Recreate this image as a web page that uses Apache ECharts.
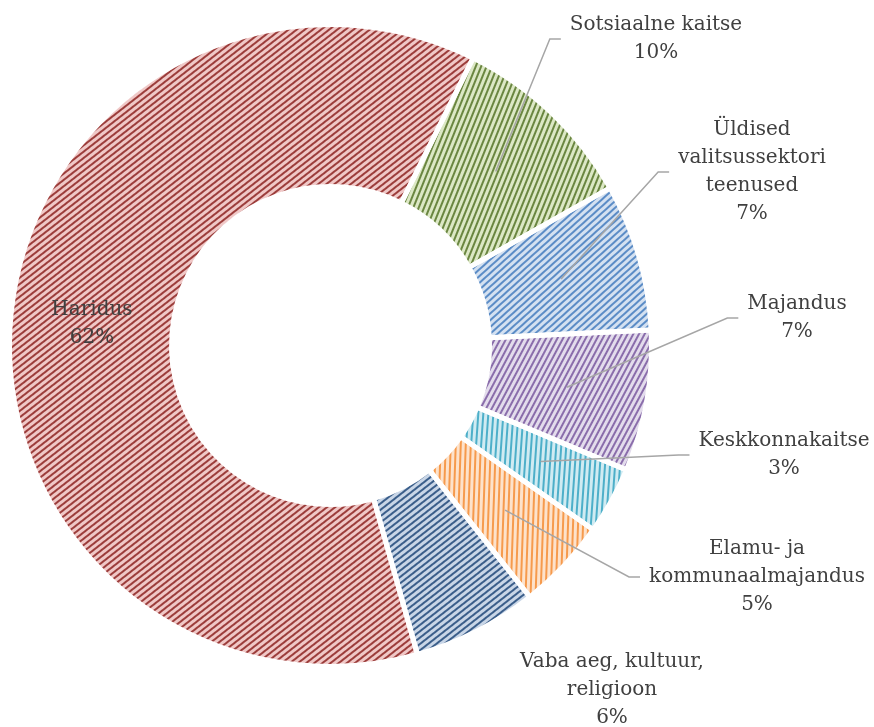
<!DOCTYPE html>
<html>
<head>
<meta charset="utf-8">
<script src="https://cdn.jsdelivr.net/npm/echarts@6/dist/echarts.min.js"></script>
<style>
  html, body { margin: 0; padding: 0; background: #fff; }
  #chart { width: 874px; height: 727px; }
</style>
</head>
<body>
<div id="chart"></div>
<script>
// data (clockwise from the Haridus / Sotsiaalne kaitse border)
const categories = [
  'Sotsiaalne kaitse',
  'Üldised valitsussektori teenused',
  'Majandus',
  'Keskkonnakaitse',
  'Elamu- ja kommunaalmajandus',
  'Vaba aeg, kultuur, religioon',
  'Haridus',
];
const labelTexts = [
  'Sotsiaalne kaitse',
  'Üldised\nvalitsussektori\nteenused',
  'Majandus',
  'Keskkonnakaitse',
  'Elamu- ja\nkommunaalmajandus',
  'Vaba aeg, kultuur,\nreligioon',
  'Haridus',
];
const shares = [9.5, 7.4, 7.1, 3.4, 4.6, 6.3, 61.7];

// styles
const fillColors = ['#dce8c5', '#d4e1f1', '#e3dcec', '#d0ebf2', '#fde2cb', '#c9d6e7', '#f0c8c7'];
const hatchColors = ['#6a8640', '#5b8cc6', '#8a6dab', '#4dafc9', '#f69a4c', '#3b5e8a', '#9c3d3b'];
const hatchAngles = [68, 42, 62, 86, 88, 38, 38];
const noLeader = ['Vaba aeg, kultuur, religioon', 'Haridus'];
// label centres in px
const labelSpots = [[656, 39], [752, 172], [797, 318], [784, 455], [757, 577], [612, 690], [92, 324]];

const chart = echarts.init(document.getElementById('chart'));
const center = [330.5, 345.5];
const startAngle = 63.6;
const ring = [159, 321];

const option = {
  animation: false,
  series: [
    {
      type: 'pie',
      center: center,
      radius: ring,
      startAngle: startAngle,
      clockwise: true,
      silent: true,
      z: 2,
      label: { show: false },
      labelLine: { show: false },
      data: categories.map((name, i) => ({
        name: name,
        value: shares[i],
        itemStyle: {
          color: fillColors[i],
          decal: {
            symbol: 'rect',
            symbolSize: 1,
            color: hatchColors[i],
            dashArrayX: [1, 0],
            dashArrayY: [1.2, 2.8],
            rotation: (-hatchAngles[i] * Math.PI) / 180,
          },
        },
      })),
    },
    {
      // white separators between the slices
      type: 'pie',
      center: center,
      radius: ring,
      startAngle: startAngle,
      clockwise: true,
      silent: true,
      z: 3,
      label: { show: false },
      labelLine: { show: false },
      itemStyle: { color: 'rgba(0,0,0,0)', borderColor: '#ffffff', borderWidth: 5 },
      data: categories.map((name, i) => ({ name: name, value: shares[i] })),
    },
    {
      // transparent ring to hold labels; leader lines start at mid ring
      type: 'pie',
      center: center,
      radius: [161, 240],
      startAngle: startAngle,
      clockwise: true,
      silent: true,
      z: 5,
      percentPrecision: 0,
      itemStyle: { color: 'rgba(0,0,0,0)' },
      label: {
        show: true,
        position: 'outside',
        fontFamily: 'DejaVu Serif',
        fontSize: 20,
        lineHeight: 28,
        color: '#404040',
        align: 'center',
        overflow: 'none',
        padding: [0, 9],
        formatter: (p) => labelTexts[p.dataIndex] + '\n' + p.percent + '%',
      },
      labelLine: {
        show: true,
        length: 20,
        length2: 11,
        lineStyle: { color: '#a6a6a6', width: 1.5 },
      },
      labelLayout: (p) => {
        const s = labelSpots[p.dataIndex];
        return { x: s[0], y: s[1], align: 'center', verticalAlign: 'middle' };
      },
      data: categories.map((name, i) => ({
        name: name,
        value: shares[i],
        labelLine: { show: noLeader.indexOf(name) < 0 },
      })),
    },
  ],
};
chart.setOption(option);
</script>
</body>
</html>
